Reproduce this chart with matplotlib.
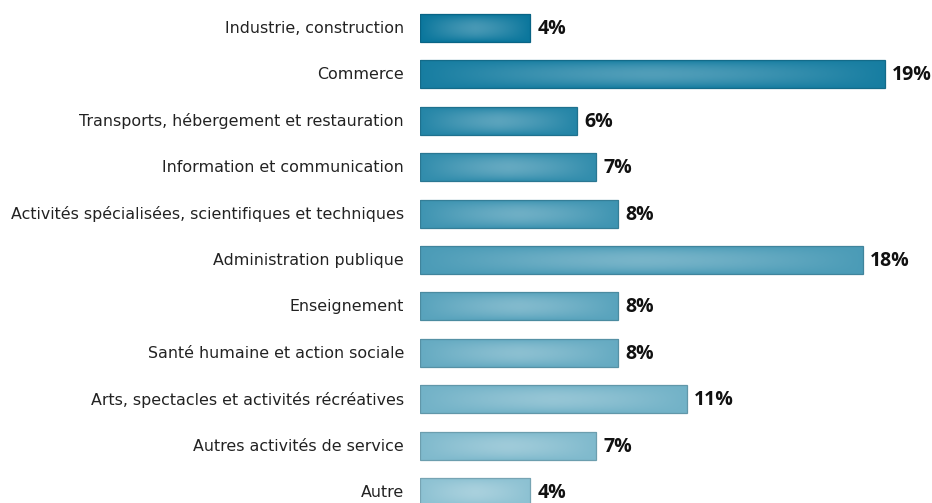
import matplotlib
matplotlib.use("Agg")
import matplotlib.pyplot as plt
from matplotlib.patches import Rectangle
from matplotlib.colors import to_rgb
import numpy as np

plt.rcParams['font.family'] = ['DejaVu Sans']

# data
categories = ["Industrie, construction", "Commerce",
              "Transports, hébergement et restauration",
              "Information et communication",
              "Activités spécialisées, scientifiques et techniques",
              "Administration publique", "Enseignement",
              "Santé humaine et action sociale",
              "Arts, spectacles et activités récréatives",
              "Autres activités de service", "Autre"]
values = [4.5, 19.0, 6.4, 7.2, 8.1, 18.1, 8.1, 8.1, 10.9, 7.2, 4.5]
value_labels = ["4%", "19%", "6%", "7%", "8%", "18%", "8%", "8%", "11%", "7%", "4%"]

dark = np.array(to_rgb("#0a769c"))
light = np.array(to_rgb("#8cc1d2"))

fig = plt.figure(figsize=(9.32, 5.03), dpi=100)
ax = fig.add_axes([420/932, 0, 512/932, 1])

bar_h = 0.6
n = len(values)
u = np.linspace(-1, 1, 200)
w = np.linspace(-1, 1, 40)
U, W = np.meshgrid(u, w)
f = (1 - np.abs(U)**1.4) * (1 - np.abs(W)**2)

for i, v in enumerate(values):
    t = i / (n - 1)
    base = dark*(1-t) + light*t
    hi = base + (1 - base)*0.25
    img = base[None, None, :] + f[..., None]*(hi - base)[None, None, :]
    ax.imshow(img, extent=(0, v, i + bar_h/2, i - bar_h/2), aspect='auto',
              interpolation='bilinear', zorder=2)
    ax.add_patch(Rectangle((0, i - bar_h/2), v, bar_h, fill=False,
                           edgecolor=base*0.85, linewidth=0.9, zorder=3))
    ax.text(v + 0.3, i + 0.02, value_labels[i], va='center', ha='left',
            fontsize=14, fontweight='bold', color='#111111',
            family=['Open Sans', 'DejaVu Sans'])
    ax.text(-0.65, i + 0.01, categories[i], va='center', ha='right',
            fontsize=11.4, color='#222222', clip_on=False)

ax.set_xlim(0, 19*512/465)
ax.set_ylim((503-28)/46.4, -28/46.4)
ax.axis('off')

fig.savefig("out.png", dpi=100)
